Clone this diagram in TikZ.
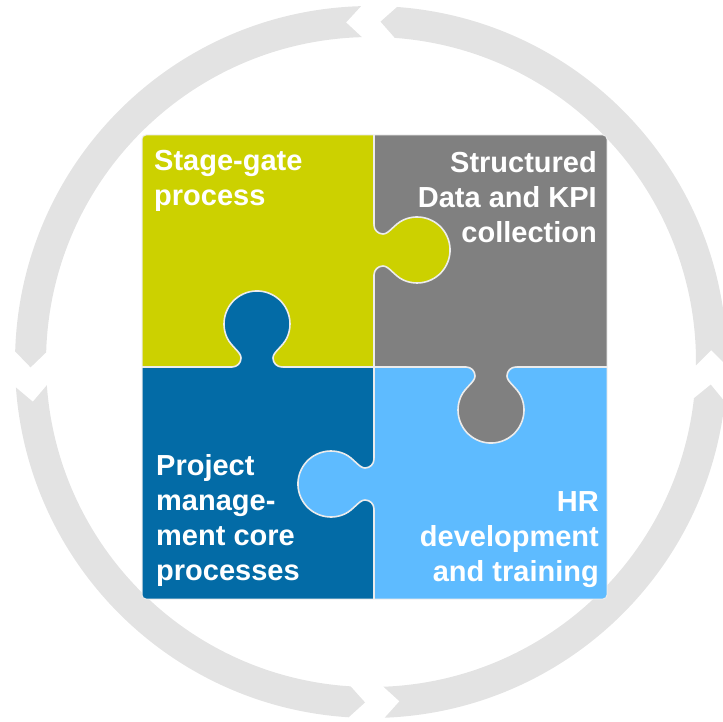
\documentclass[tikz,border=0pt]{standalone}
\usepackage{fontspec}
\setmainfont{Liberation Sans}
\definecolor{ringgray}{RGB}{227,227,227}
\definecolor{stagegreen}{RGB}{204,209,0}
\definecolor{datagray}{RGB}{128,128,128}
\definecolor{pmblue}{RGB}{3,107,166}
\definecolor{hrblue}{RGB}{94,187,255}
\definecolor{seam}{RGB}{236,236,236}
% knob outline in local coordinates, outward = +y
\newcommand{\knobline}{(-25,0) .. controls (-20,0) and (-16,4) .. (-16,9) .. controls (-16,15) and (-25.8,20.2) .. (-30,29.3) arc[start angle=204.6, end angle=-24.6, radius=33] .. controls (25.8,20.2) and (16,15) .. (16,9) .. controls (16,4) and (20,0) .. (25,0)}
\begin{document}
\begin{tikzpicture}[x=1pt, y=1pt,
    seamline/.style={seam, line width=1.6pt},
    piecetext/.style={text=white, font=\fontsize{29}{35}\selectfont\bfseries, inner sep=0pt, align=left}]
\clip (0,0) rectangle (723,721);

% Ring of arrows
\begin{scope}[shift={(371,359)}]
\foreach \ts/\hd in {-2.2/90, 90/182.5, 182.5/270.6, 270.6/357.8}
    \fill[ringgray] ({\ts+1.6}:356) arc[start angle=\ts+1.6, end angle=\hd-4.2, radius=356]
        -- ({\hd-1.6}:340.5) -- ({\hd-4.2}:325)
        arc[start angle=\hd-4.2, end angle=\ts+1.6, radius=325]
        -- ({\ts+4.2}:340.5) -- cycle;
\end{scope}

% Pieces
\begin{scope}
\clip[rounded corners=4pt] (142,122) rectangle (607,586);
\fill[stagegreen] (142,354) rectangle (374,586);
\fill[datagray] (374,354) rectangle (607,586);
\fill[pmblue] (142,122) rectangle (374,354);
\fill[hrblue] (374,122) rectangle (607,354);
\end{scope}
\draw[seamline] (374,122) -- (374,586);
\draw[seamline] (142,354) -- (607,354);
\draw[seam, line width=1pt, rounded corners=4pt] (142,122) rectangle (607,586);

% Knobs
\foreach \kx/\ky/\krot/\kcol in {257/354/0/pmblue, 491/354/180/datagray, 374/471/-90/stagegreen, 374/237/90/hrblue}
{
    \begin{scope}[shift={(\kx,\ky)}, rotate=\krot]
        \fill[\kcol] \knobline -- (25,-4) -- (-25,-4) -- cycle;
        \draw[seamline] \knobline;
    \end{scope}
}

% Labels
\node[piecetext, anchor=north west] (stage) at (154,571) {Stage-gate\\process};
\node[piecetext, anchor=north east, align=right] (data) at (597,569.5) {Structured\\Data and KPI\\collection};
\node[piecetext, anchor=north west] (pm) at (156,267) {Project\\manage-\\ment core\\processes};
\node[piecetext, anchor=north east, align=right] (hr) at (599,229.5) {HR\\development\\and training};
\end{tikzpicture}
\end{document}
